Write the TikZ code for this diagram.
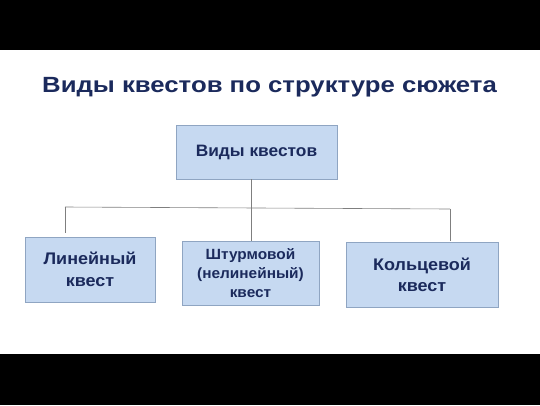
\documentclass[tikz,border=0pt]{standalone}
\usepackage{fontspec}
\setmainfont{Liberation Sans}
\newfontfamily\titlefont[FakeStretch=1.17]{Liberation Sans}
\newfontfamily\rootfont[FakeStretch=1.05]{Liberation Sans}
\newfontfamily\boxfont[FakeStretch=1.07]{Liberation Sans}
\newfontfamily\midfont[FakeStretch=1.04]{Liberation Sans}
\definecolor{navy}{HTML}{1B2A5C}
\definecolor{boxfill}{HTML}{C6D9F1}
\definecolor{boxline}{HTML}{8FA5C2}
\definecolor{conn}{HTML}{7F7F7F}
\tikzset{
  qbox/.style={draw=boxline, fill=boxfill, line width=0.8pt, inner sep=0pt, align=center, text=navy},
  conline/.style={draw=conn, line width=0.6pt}
}
\begin{document}
\begin{tikzpicture}[x=1pt,y=-1pt]
\useasboundingbox (0,0) rectangle (540,405);
\fill[black] (0,0) rectangle (540,50);
\fill[black] (0,354) rectangle (540,405);
\node[text=navy, font=\titlefont\fontsize{22}{26}\selectfont\bfseries, anchor=base, inner sep=0pt] (title) at (269.5,92.5) {Виды квестов по структуре сюжета};
\node[qbox, minimum width=161pt, minimum height=54pt, font=\rootfont\fontsize{16.5}{19}\selectfont\bfseries] (root) at (256.5,152) {Виды квестов};
\node[qbox, minimum width=130pt, minimum height=65pt, font=\boxfont\fontsize{16.8}{22.4}\selectfont\bfseries] (lin) at (90,269.5) {Линейный\\квест};
\node[qbox, minimum width=137pt, minimum height=64pt, font=\midfont\fontsize{14.8}{19}\selectfont\bfseries] (storm) at (250.5,273) {Штурмовой\\(нелинейный)\\квест};
\node[qbox, minimum width=152pt, minimum height=65pt, font=\boxfont\fontsize{16.8}{20.7}\selectfont\bfseries] (ring) at (422,274.5) {Кольцевой\\квест};
\coordinate (jl) at (65,207);
\coordinate (jm) at (251,208);
\coordinate (jr) at (450,209);
\coordinate (el) at (65,233);
\coordinate (er) at (450,241);
\draw[conline] (jl) -- (jr);
\draw[conline] (root.south -| jm) -- (storm.north -| jm);
\draw[conline] (jl) -- (el);
\draw[conline] (jr) -- (er);
\end{tikzpicture}
\end{document}
